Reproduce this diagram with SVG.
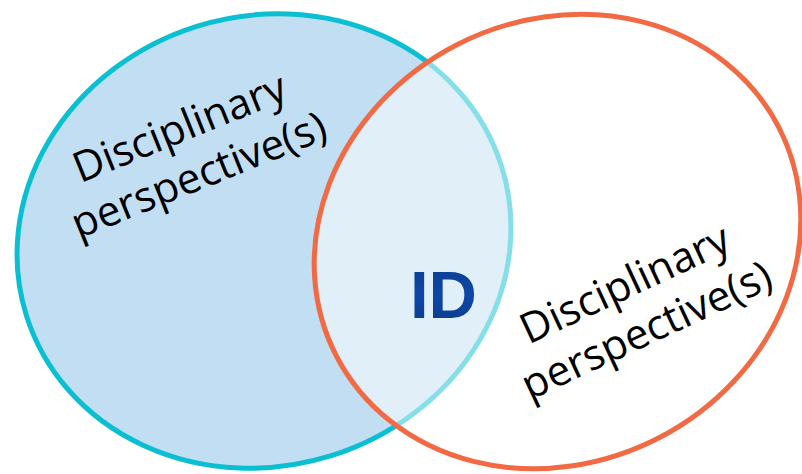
<svg xmlns="http://www.w3.org/2000/svg" width="802" height="474" viewBox="0 0 802 474">
  <defs>
    <style>
      .lbl { font-family: "Open Sans", Lato, "Liberation Sans", sans-serif; font-size: 42px; fill: #000000; }
      .id { font-family: "Liberation Sans", Arial, sans-serif; font-weight: bold; font-size: 67px; }
    </style>
    <linearGradient id="idGrad" x1="0" y1="0" x2="0" y2="1">
      <stop offset="0" stop-color="#0a3c8e"/>
      <stop offset="0.5" stop-color="#0d47a6"/>
      <stop offset="1" stop-color="#0a3a88"/>
    </linearGradient>
  </defs>
  <rect width="802" height="474" fill="#ffffff"/>
  <g id="left-set">
    <ellipse cx="264" cy="241" rx="249" ry="225" transform="rotate(-17.4 264 241)" fill="#c2def3" stroke="#0bbfd3" stroke-width="5"/>
    <text class="lbl" text-anchor="middle" transform="translate(185 141) rotate(-22)"><tspan x="0" y="0">Disciplinary</tspan><tspan x="0" y="51">perspective(s)</tspan></text>
  </g>
  <g id="right-set">
    <ellipse cx="557.5" cy="241.5" rx="249" ry="221" transform="rotate(-27.5 557.5 241.5)" fill="#ffffff" fill-opacity="0.5" stroke="none"/>
    <ellipse cx="557.5" cy="241.5" rx="249" ry="221" transform="rotate(-27.5 557.5 241.5)" fill="none" stroke="#f26a44" stroke-width="5"/>
    <text class="lbl" text-anchor="middle" transform="translate(631 297) rotate(-25)"><tspan x="0" y="0">Disciplinary</tspan><tspan x="0" y="51">perspective(s)</tspan></text>
  </g>
  <g id="intersection">
    <text class="id" x="410" y="318" fill="url(#idGrad)">ID</text>
  </g>
</svg>
